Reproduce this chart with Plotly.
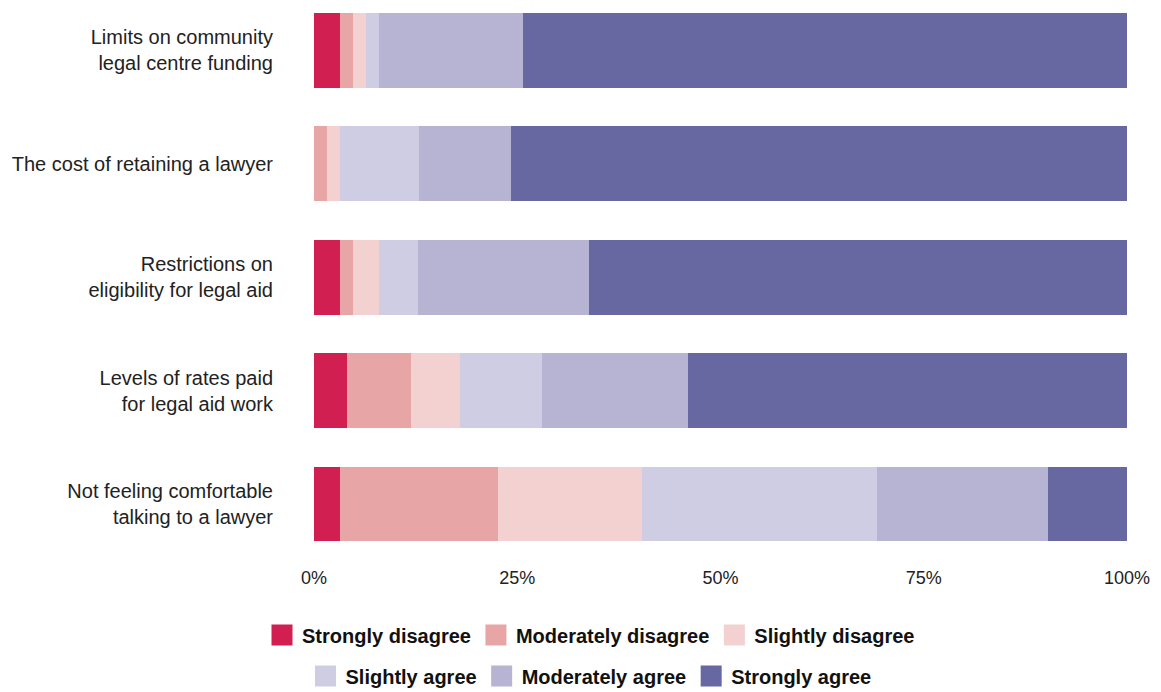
import plotly.graph_objects as go

# Survey statements (top to bottom) and share of responses per level, in %
statements = [
    "Limits on community<br>legal centre funding",
    "The cost of retaining a lawyer",
    "Restrictions on<br>eligibility for legal aid",
    "Levels of rates paid<br>for legal aid work",
    "Not feeling comfortable<br>talking to a lawyer",
]
levels = [
    "Strongly disagree",
    "Moderately disagree",
    "Slightly disagree",
    "Slightly agree",
    "Moderately agree",
    "Strongly agree",
]
strongly_disagree = [3.2, 0.0, 3.2, 4.1, 3.2]
moderately_disagree = [1.6, 1.6, 1.6, 7.8, 19.4]
slightly_disagree = [1.6, 1.6, 3.2, 6.1, 17.7]
slightly_agree = [1.6, 9.7, 4.8, 10.0, 29.0]
moderately_agree = [17.7, 11.3, 21.0, 18.0, 21.0]
strongly_agree = [74.3, 75.8, 66.2, 54.0, 9.7]
series = [strongly_disagree, moderately_disagree, slightly_disagree,
          slightly_agree, moderately_agree, strongly_agree]
colors = ["#D21F52", "#E7A6A5", "#F2D1D0", "#CFCDE3", "#B6B3D3", "#6768A2"]
x_ticks = [0, 25, 50, 75, 100]

FONT = "Liberation Sans, Arial, Helvetica, sans-serif"

fig = go.Figure()
for name, vals, col in zip(levels, series, colors):
    fig.add_trace(go.Bar(
        y=statements, x=vals, name=name, orientation="h",
        marker=dict(color=col, line=dict(width=0)),
        width=0.66, showlegend=False, hoverinfo="x+name",
    ))

# Legend entries with large square swatches, split over two rows
for i, (name, col) in enumerate(zip(levels, colors)):
    fig.add_trace(go.Scatter(
        x=[None], y=[None], mode="markers", name=name,
        marker=dict(symbol="square", size=16, color=col,
                    line=dict(color=col, width=5)),
        legend="legend" if i < 3 else "legend2",
    ))

legend_style = dict(
    orientation="h", xref="container", yref="container",
    xanchor="center", yanchor="middle", itemsizing="trace",
    traceorder="normal",
    font=dict(family=FONT, size=20, color="#111111", weight="bold"),
    bgcolor="rgba(0,0,0,0)", itemwidth=30, tracegroupgap=0,
)

fig.update_layout(
    width=1161, height=692,
    margin=dict(l=314, r=34, t=6, b=136),
    barmode="stack",
    plot_bgcolor="white", paper_bgcolor="white",
    font=dict(family=FONT, size=17, color="#222222"),
    xaxis=dict(
        range=[0, 100], tickvals=x_ticks, ticktext=[f"{v}%" for v in x_ticks],
        showgrid=False, zeroline=False, showline=False, ticks="",
        tickfont=dict(size=18, color="#222222"), ticklabelstandoff=9,
        fixedrange=True,
    ),
    yaxis=dict(
        categoryorder="array", categoryarray=statements,
        range=[4.458, -0.392], showgrid=False, zeroline=False,
        showline=False, ticks="", ticklabelstandoff=40,
        tickfont=dict(size=20, color="#222222"), fixedrange=True,
    ),
    legend=dict(x=591 / 1161, y=1 - 635 / 692, **legend_style),
    legend2=dict(x=591 / 1161, y=1 - 676 / 692, **legend_style),
)

fig.write_html("out.html")
